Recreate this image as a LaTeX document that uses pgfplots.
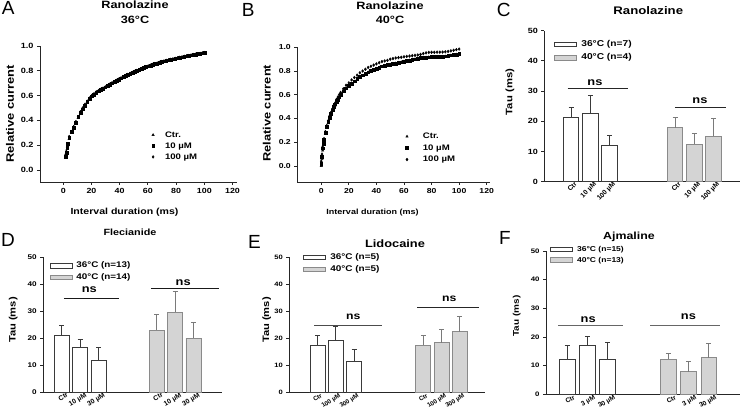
\documentclass[border=0pt]{standalone}
\usepackage{fontspec}
\setmainfont{Liberation Sans}[FakeStretch=1.2]
\newfontfamily\plainsans{Liberation Sans}
\usepackage{pgfplots}
\usepackage{pgfplotstable}
\pgfplotsset{compat=1.18}

\definecolor{edgedark}{HTML}{3A3A3A}
\definecolor{edgegray}{HTML}{8A8A8A}
\definecolor{fillgray}{HTML}{D4D4D4}
\definecolor{errgray}{HTML}{7A7A7A}

\newcommand{\fs}[1]{\fontsize{#1}{#1}\selectfont\bfseries}
% unstretched face for the slanted tick labels
\newcommand{\fr}[1]{\plainsans\fontsize{#1}{#1}\selectfont\bfseries}

% recovery curves, panel A (36 C)
\pgfplotstableread{
x ctr c10 c100
1.6 0.10 0.11 0.12
2.2 0.14 0.14 0.15
2.8 0.17 0.18 0.18
3.4 0.20 0.21 0.21
4.2 0.25 0.26 0.27
5.8 0.30 0.31 0.31
7.4 0.34 0.34 0.35
9.0 0.38 0.38 0.39
10.6 0.42 0.43 0.43
12.2 0.46 0.46 0.47
13.8 0.49 0.49 0.50
15.4 0.52 0.52 0.53
17.0 0.55 0.55 0.555
18.6 0.57 0.575 0.58
20.2 0.59 0.595 0.60
21.8 0.605 0.61 0.615
23.4 0.62 0.625 0.63
25.0 0.633 0.636 0.64
26.6 0.645 0.647 0.65
28.2 0.655 0.658 0.66
29.8 0.665 0.668 0.67
31.4 0.675 0.678 0.68
33.0 0.687 0.69 0.692
34.6 0.697 0.70 0.703
36.2 0.707 0.71 0.713
37.8 0.717 0.72 0.723
39.4 0.727 0.73 0.733
41.0 0.737 0.74 0.743
42.6 0.747 0.75 0.752
44.2 0.757 0.76 0.762
45.8 0.766 0.77 0.771
47.4 0.775 0.778 0.78
49.0 0.782 0.785 0.787
50.6 0.79 0.792 0.795
52.2 0.798 0.80 0.803
53.8 0.806 0.808 0.81
55.4 0.814 0.816 0.818
57.0 0.821 0.823 0.825
58.6 0.828 0.83 0.832
60.2 0.835 0.837 0.839
61.8 0.841 0.843 0.845
63.4 0.847 0.849 0.851
65.0 0.852 0.855 0.857
66.6 0.858 0.86 0.862
68.2 0.863 0.866 0.868
69.8 0.869 0.872 0.874
71.4 0.875 0.877 0.879
73.0 0.88 0.882 0.884
74.6 0.884 0.886 0.888
76.2 0.888 0.89 0.892
77.8 0.892 0.894 0.896
79.4 0.896 0.898 0.90
81.0 0.90 0.902 0.904
82.6 0.904 0.906 0.908
84.2 0.908 0.91 0.912
85.8 0.912 0.914 0.916
87.4 0.916 0.918 0.92
89.0 0.919 0.921 0.923
90.6 0.923 0.925 0.927
92.2 0.926 0.928 0.93
93.8 0.929 0.931 0.933
95.4 0.933 0.935 0.937
97.0 0.936 0.938 0.94
98.6 0.94 0.942 0.944
100.2 0.943 0.945 0.947
}\rA

% recovery curves, panel B (40 C)
\pgfplotstableread{
x ctr c10 c100
0 0.00 0.02 0.04
0.5 0.06 0.08 0.10
1 0.13 0.15 0.16
1.5 0.18 0.19 0.20
2 0.21 0.22 0.23
3 0.27 0.28 0.29
4 0.32 0.33 0.34
5 0.36 0.37 0.38
6 0.40 0.41 0.42
7 0.44 0.44 0.45
8 0.47 0.47 0.48
9 0.49 0.50 0.51
10 0.51 0.52 0.53
11 0.54 0.54 0.56
12 0.56 0.56 0.58
13 0.58 0.58 0.60
14 0.60 0.60 0.62
16 0.625 0.63 0.65
18 0.65 0.655 0.68
20 0.67 0.675 0.70
22 0.69 0.695 0.725
24 0.71 0.715 0.745
26 0.73 0.735 0.765
28 0.745 0.75 0.785
30 0.76 0.765 0.80
32 0.775 0.78 0.815
34 0.79 0.79 0.83
36 0.80 0.80 0.84
38 0.81 0.81 0.85
40 0.82 0.82 0.86
42 0.83 0.83 0.87
44 0.835 0.84 0.88
46 0.845 0.845 0.885
48 0.85 0.85 0.89
50 0.855 0.855 0.90
52 0.86 0.86 0.905
54 0.865 0.865 0.91
56 0.87 0.87 0.913
58 0.875 0.875 0.916
60 0.88 0.88 0.92
62 0.885 0.885 0.923
64 0.89 0.89 0.926
66 0.895 0.895 0.929
68 0.90 0.90 0.932
70 0.905 0.905 0.935
72 0.91 0.91 0.94
74 0.912 0.913 0.947
76 0.915 0.915 0.953
78 0.917 0.917 0.957
80 0.918 0.918 0.958
82 0.919 0.919 0.958
84 0.92 0.92 0.959
86 0.921 0.921 0.959
88 0.922 0.922 0.96
90 0.924 0.925 0.962
92 0.928 0.929 0.965
94 0.932 0.933 0.97
96 0.936 0.937 0.975
98 0.94 0.94 0.98
100 0.945 0.945 0.985
}\rB

\pgfplotsset{
  sigma/.style={
    scale only axis, anchor=south west, clip=false,
    axis lines*=left, axis line style={-, line width=0.8pt, draw=black!85},
    tick pos=left, tick align=outside, major tick length=3pt,
    tick style={line width=0.8pt, black!85},
    /pgf/number format/assume math mode=true,
  },
  curve/.style={
    sigma,
    xtick={0,20,40,60,80,100,120}, ytick={0,0.2,0.4,0.6,0.8,1.0},
    yticklabel style={/pgf/number format/fixed, /pgf/number format/fixed zerofill,
      /pgf/number format/precision=1},
    legend style={draw=none, fill=none, anchor=west, inner sep=0pt,
      nodes={inner sep=0.5pt, text height=6pt, text depth=1.5pt}},
    legend cell align=left,
  },
  dots/.style={only marks, mark=#1, mark size=1.4pt, black,
    legend image code/.code={\draw[##1] plot coordinates {(2pt,0pt)};}},
  barchart/.style={
    sigma, ybar, ymin=0, ymax=50, ytick={0,10,20,30,40,50},
    major x tick style={draw=none},
    xticklabel style={anchor=north east, inner sep=0.5pt},
    legend image code/.code={\draw[##1] (0pt,-2.3pt) rectangle (22pt,2.3pt);},
    legend style={draw=none, fill=none, anchor=west, inner sep=0pt, column sep=3.5pt,
      nodes={inner sep=0.5pt, text height=6pt, text depth=1.5pt}},
    legend cell align=left,
  },
  warm/.style={bar shift=0pt, fill=white, draw=edgedark, line width=0.9pt,
    error bars/.cd, y dir=plus, y explicit,
    error bar style={line width=0.9pt, draw=edgedark},
    error mark options={rotate=90, mark size=2.5pt, line width=0.9pt, draw=edgedark}},
  hot/.style={bar shift=0pt, fill=fillgray, draw=edgegray, line width=0.9pt,
    error bars/.cd, y dir=plus, y explicit,
    error bar style={line width=0.9pt, draw=errgray},
    error mark options={rotate=90, mark size=2.5pt, line width=0.9pt, draw=errgray}},
  nsline/.style={sharp plot, forget plot, line width=0.9pt, draw=#1},
}

\begin{document}
\begin{tikzpicture}
\useasboundingbox (0pt,0pt) rectangle (750pt,419pt);

% ---------- A ----------
\begin{axis}[curve, at={(40pt,237pt)}, width=197pt, height=136pt,
  xmin=-16.5, xmax=123.2, ymin=-0.097, ymax=1.0,
  xticklabel style={font=\fs{7.4}}, yticklabel style={font=\fs{7.6}},
  legend style={at={(0.566,0.265)}, row sep=2.5pt, column sep=10pt, font=\fs{8}}]
\addplot[dots=triangle*] table[x=x, y=ctr] {\rA};
\addplot[dots=square*] table[x=x, y=c10] {\rA};
\addplot[dots=diamond*] table[x=x, y=c100] {\rA};
\legend{Ctr., 10 µM, 100 µM}
\end{axis}

% ---------- B ----------
\begin{axis}[curve, at={(297.3pt,237pt)}, width=192.7pt, height=134.7pt,
  xmin=-17.4, xmax=122.4, ymin=-0.135, ymax=1.0,
  xticklabel style={font=\fs{7.2}}, yticklabel style={font=\fs{7.2}},
  legend style={at={(0.561,0.252)}, row sep=3pt, column sep=14pt, font=\fs{8}}]
\addplot[dots=triangle*] table[x=x, y=ctr] {\rB};
\addplot[dots=square*] table[x=x, y=c10] {\rB};
\addplot[dots=diamond*] table[x=x, y=c100] {\rB};
\legend{Ctr., 10 µM, 100 µM}
\end{axis}

% ---------- C ----------
\begin{axis}[barchart, at={(544.3pt,237.3pt)}, width=195.7pt, height=151pt,
  xmin=-0.4, xmax=9.8, bar width=15.5pt,
  xtick={1,2,3,6.42,7.42,8.42},
  xticklabels={Ctr,10 µM,100 µM,Ctr,10 µM,100 µM},
  xticklabel style={font=\fr{6.8}, rotate=45, xshift=5pt, yshift=1pt},
  yticklabel style={font=\fs{7.5}},
  legend style={at={(0.051,0.8656)}, row sep=4.9pt, font=\fs{8.5}}]
\addplot[warm] coordinates {(1,21.3) +- (0,3.3) (2,22.5) +- (0,6.2) (3,12.1) +- (0,3.2)};
\addplot[hot] coordinates {(6.42,17.8) +- (0,3.4) (7.42,12.4) +- (0,3.6) (8.42,15.1) +- (0,5.8)};
\addplot[nsline=black!85] coordinates {(0.82,30.9) (3.97,30.9)};
\addplot[nsline=black!85] coordinates {(6.4,24.6) (9.06,24.6)};
\node[font=\fs{10.7}, anchor=base] at (axis cs:2.24,32.0) {ns};
\node[font=\fs{10.7}, anchor=base] at (axis cs:7.71,26.0) {ns};
\legend{36°C (n=7), 40°C (n=4)}
\end{axis}

% ---------- D ----------
\begin{axis}[barchart, at={(43.3pt,26.7pt)}, width=178.7pt, height=135pt,
  xmin=0, xmax=9.71, bar width=15pt,
  xtick={1,2,3,6.16,7.16,8.16},
  xticklabels={Ctr,10 µM,30 µM,Ctr,10 µM,30 µM},
  xticklabel style={font=\fr{6.8}, rotate=30, xshift=6pt, yshift=1pt},
  yticklabel style={font=\fs{6.8}},
  legend style={at={(0.0336,0.895)}, row sep=3.1pt, font=\fs{8.2}}]
\addplot[warm] coordinates {(1,20.9) +- (0,3.8) (2,16.7) +- (0,2.7) (3,11.9) +- (0,4.6)};
\addplot[hot] coordinates {(6.16,23.0) +- (0,5.9) (7.16,29.6) +- (0,7.8) (8.16,20.0) +- (0,5.9)};
\addplot[nsline=black!90] coordinates {(1.12,34.8) (4.11,34.8)};
\addplot[nsline=black!90] coordinates {(5.84,38.3) (9.55,38.3)};
\node[font=\fs{10.7}, anchor=base] at (axis cs:2.5,37.0) {ns};
\node[font=\fs{10.7}, anchor=base] at (axis cs:7.6,39.6) {ns};
\legend{36°C (n=13), 40°C (n=14)}
\end{axis}

% ---------- E ----------
\begin{axis}[barchart, at={(289.3pt,26.7pt)}, width=195.7pt, height=135pt,
  xmin=-0.54, xmax=10.15, bar width=15pt,
  xtick={1,2,3,6.78,7.78,8.78},
  xticklabels={Ctr,100 µM,300 µM,Ctr,100 µM,300 µM},
  xticklabel style={font=\fr{6.2}, rotate=32, xshift=4pt, yshift=1pt},
  yticklabel style={font=\fs{6.3}},
  legend style={at={(0.0715,0.9556)}, row sep=3.5pt, font=\fs{8.3}}]
\addplot[warm] coordinates {(1,17.4) +- (0,3.8) (2,19.1) +- (0,5.2) (3,11.4) +- (0,4.6)};
\addplot[hot] coordinates {(6.78,17.5) +- (0,3.7) (7.78,18.3) +- (0,5.0) (8.78,22.5) +- (0,5.6)};
\addplot[nsline=black!70] coordinates {(0.81,24.7) (4.5,24.7)};
\addplot[nsline=black!85] coordinates {(6.45,31.3) (9.83,31.3)};
\node[font=\fs{10.2}, anchor=base] at (axis cs:2.96,26.8) {ns};
\node[font=\fs{10.2}, anchor=base] at (axis cs:8.2,33.6) {ns};
\legend{36°C (n=5), 40°C (n=5)}
\end{axis}

% ---------- F ----------
\begin{axis}[barchart, at={(546pt,24.7pt)}, width=194pt, height=143.3pt,
  xmin=-0.05, xmax=9.55, bar width=15.5pt,
  xtick={1,2,3,6.01,7.01,8.01},
  xticklabels={Ctr,3 µM,30 µM,Ctr,3 µM,30 µM},
  xticklabel style={font=\fr{6.6}, rotate=30, xshift=7pt, yshift=0pt},
  yticklabel style={font=\fs{6.5}},
  legend style={at={(0.0206,0.9745)}, row sep=2.2pt, font=\fs{7.1}}]
\addplot[warm] coordinates {(1,12.2) +- (0,4.8) (2,17.2) +- (0,3.1) (3,12.2) +- (0,5.8)};
\addplot[hot] coordinates {(6.01,12.3) +- (0,2.0) (7.01,7.8) +- (0,3.6) (8.01,12.7) +- (0,4.9)};
\addplot[nsline=black!60] coordinates {(0.56,23.9) (3.78,23.9)};
\addplot[nsline=black!60] coordinates {(5.1,23.9) (8.56,23.9)};
\node[font=\fs{10.7}, anchor=base] at (axis cs:2.04,25.0) {ns};
\node[font=\fs{10.7}, anchor=base] at (axis cs:7.0,26.2) {ns};
\legend{36°C (n=15), 40°C (n=13)}
\end{axis}

% ---------- titles, axis labels, panel letters ----------
\node[font=\fs{10.6}, anchor=base] at (135pt,410pt) {Ranolazine};
\node[font=\fs{10.6}, anchor=base] at (135pt,395.7pt) {36°C};
\node[font=\fs{10.6}, anchor=base] at (390pt,409pt) {Ranolazine};
\node[font=\fs{10.6}, anchor=base] at (390pt,395pt) {40°C};
\node[font=\fs{11}, anchor=base] at (648.3pt,404pt) {Ranolazine};
\node[font=\fs{9}, anchor=base] at (130pt,183pt) {Flecianide};
\node[font=\fs{10.7}, anchor=base] at (395pt,171.7pt) {Lidocaine};
\node[font=\fs{10.3}, anchor=base] at (629pt,179pt) {Ajmaline};

\node[font=\fs{8.8}, anchor=base] at (124.5pt,204pt) {Interval duration (ms)};
\node[font=\fs{7.5}, anchor=base] at (372.5pt,204pt) {Interval duration (ms)};
\node[font=\fs{10.8}, rotate=90] at (10pt,305pt) {Relative current};
\node[font=\fs{10.7}, rotate=90] at (266.7pt,305.7pt) {Relative current};
\node[font=\fs{9.4}, rotate=90] at (510pt,327pt) {Tau (ms)};
\node[font=\fs{9.3}, rotate=90] at (13.3pt,99pt) {Tau (ms)};
\node[font=\fs{9.3}, rotate=90] at (266.7pt,99pt) {Tau (ms)};
\node[font=\fs{8.3}, rotate=90] at (516.7pt,103pt) {Tau (ms)};

\node[font=\plainsans\fontsize{19}{19}\selectfont, anchor=base west, inner sep=0pt] at (1.7pt,404pt) {A};
\node[font=\plainsans\fontsize{19}{19}\selectfont, anchor=base west, inner sep=0pt] at (241.7pt,402.3pt) {B};
\node[font=\plainsans\fontsize{19}{19}\selectfont, anchor=base west, inner sep=0pt] at (496.7pt,402.3pt) {C};
\node[font=\plainsans\fontsize{19}{19}\selectfont, anchor=base west, inner sep=0pt] at (1pt,172.3pt) {D};
\node[font=\plainsans\fontsize{19}{19}\selectfont, anchor=base west, inner sep=0pt] at (248pt,170.7pt) {E};
\node[font=\plainsans\fontsize{19}{19}\selectfont, anchor=base west, inner sep=0pt] at (499pt,174pt) {F};
\end{tikzpicture}
\end{document}
